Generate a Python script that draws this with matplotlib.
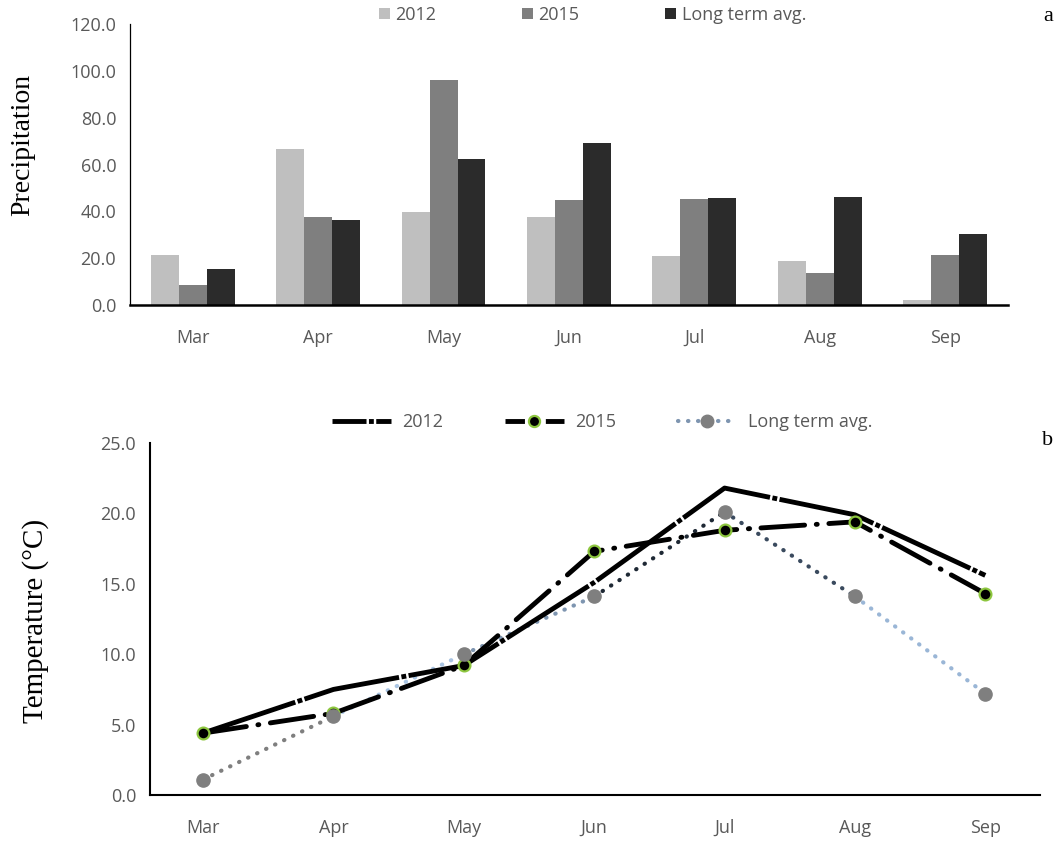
import numpy as np
import matplotlib.pyplot as plt
from matplotlib.lines import Line2D

months = ["Mar", "Apr", "May", "Jun", "Jul", "Aug", "Sep"]

# Precipitation (panel a)
prec_2012 = [21.3, 66.6, 39.7, 37.6, 20.9, 18.8, 2.4]
prec_2015 = [8.5, 37.6, 96.1, 44.8, 45.3, 13.7, 21.3]
prec_lta = [15.4, 36.3, 62.3, 69.2, 45.7, 46.1, 30.4]

# Temperature (panel b)
temp_2012 = [4.4, 7.5, 9.2, 15.1, 21.8, 19.9, 15.6]
temp_2015 = [4.4, 5.8, 9.2, 17.3, 18.8, 19.4, 14.3]
temp_lta = [1.1, 5.6, 10.0, 14.1, 20.1, 14.1, 7.2]

tick_font = "Open Sans"
serif = "Liberation Serif"
tick_col = "#595959"

fig = plt.figure(figsize=(10.64, 8.43), dpi=100)
x = np.arange(len(months))

# ---- panel a: bars
ax1 = fig.add_axes([0.1222, 0.638, 0.825, 0.3335])
w = 0.223
ax1.bar(x - w, prec_2012, w, color="#BFBFBF", label="2012")
ax1.bar(x, prec_2015, w, color="#7F7F7F", label="2015")
ax1.bar(x + w, prec_lta, w, color="#2B2B2B", label="Long term avg.")
ax1.set_xlim(-0.5, 6.5)
ax1.set_ylim(0, 120)
ax1.set_yticks(np.arange(0, 121, 20))
ax1.set_yticklabels([f"{v:.1f}" for v in np.arange(0, 121, 20)])
ax1.set_xticks(x)
ax1.set_xticklabels(months)
for s in ["top", "right"]:
    ax1.spines[s].set_visible(False)
ax1.spines["bottom"].set_linewidth(1.8)
ax1.spines["left"].set_linewidth(0.9)
ax1.tick_params(length=0, labelsize=13, labelcolor=tick_col)
ax1.tick_params(axis="x", pad=17)
ax1.tick_params(axis="y", pad=10)
for lab in ax1.get_xticklabels() + ax1.get_yticklabels():
    lab.set_fontfamily(tick_font)
ax1.legend(loc="center", bbox_to_anchor=(0.527, 1.032), ncol=3, frameon=False,
           prop={"family": tick_font, "size": 13}, labelcolor=tick_col,
           handlelength=0.6, handleheight=0.6, handletextpad=0.3, columnspacing=4.75)
fig.text(23 / 1064, 1 - 145 / 843, "Precipitation", rotation=90, ha="center",
         va="center", fontfamily=serif, fontsize=20)

# ---- panel b: lines
ax2 = fig.add_axes([0.141, 0.0569, 0.8365, 0.4176])
ax2.plot(x, temp_2012, color="black", lw=3.5, dashes=(20, 0.5, 1, 0.5),
         solid_capstyle="round", label="2012", zorder=3)
ax2.plot(x, temp_2015, color="black", lw=3.5, dashes=(9, 2.4, 0.2, 2.4),
         dash_capstyle="round", marker="o", ms=8.5, mfc="black", mec="#8DC63F",
         mew=1.6, label="2015", zorder=4)

# long term avg: dotted line with shaded segments
seg_cols = ["#7F7F7F", "#A9C4E2", "#7E95B0", "#1E2834", "#3A4A5E", "#9AB6D6"]
for i in range(len(months) - 1):
    ax2.plot(x[i:i + 2], temp_lta[i:i + 2], color=seg_cols[i], lw=3,
             dashes=(0.1, 2.3), dash_capstyle="round", zorder=2)
ax2.plot(x, temp_lta, ls="none", marker="o", ms=9.5, color="#7F7F7F", zorder=5)

ax2.set_xlim(-0.407, 6.42)
ax2.set_ylim(0, 25)
ax2.set_yticks(np.arange(0, 26, 5))
ax2.set_yticklabels([f"{v:.1f}" for v in np.arange(0, 26, 5)])
ax2.set_xticks(x)
ax2.set_xticklabels(months)
for s in ["top", "right"]:
    ax2.spines[s].set_visible(False)
ax2.spines["bottom"].set_linewidth(1.5)
ax2.spines["left"].set_linewidth(1.5)
ax2.tick_params(length=0, labelsize=13, labelcolor=tick_col)
ax2.tick_params(axis="x", pad=17)
ax2.tick_params(axis="y", pad=10)
for lab in ax2.get_xticklabels() + ax2.get_yticklabels():
    lab.set_fontfamily(tick_font)
fig.text(36 / 1064, 1 - 621 / 843, "Temperature (°C)", rotation=90, ha="center",
         va="center", fontfamily=serif, fontsize=21)

handles = [
    Line2D([], [], color="black", lw=3.5, dashes=(7, 0.5, 1, 0.5)),
    Line2D([], [], color="black", lw=3.5, dashes=(4, 2, 0.3, 2), marker="o", ms=8,
           mfc="black", mec="#8DC63F", mew=1.6),
    Line2D([], [], color="#7E95B0", lw=3, dashes=(0.1, 2.3), dash_capstyle="round",
           marker="o", ms=9, mfc="#7F7F7F", mec="#7F7F7F"),
]
ax2.legend(handles, ["2012", "2015", "Long term avg."], loc="center",
           bbox_to_anchor=(0.508, 1.06), ncol=3, frameon=False,
           prop={"family": tick_font, "size": 13}, labelcolor=tick_col,
           handlelength=3.3, handletextpad=0.6, columnspacing=3.4)

fig.text(0.985, 0.98, "a", fontfamily=serif, fontsize=16, ha="center", va="center")
fig.text(0.985, 0.478, "b", fontfamily=serif, fontsize=16, ha="center", va="center")

fig.savefig("out.png", dpi=100)
